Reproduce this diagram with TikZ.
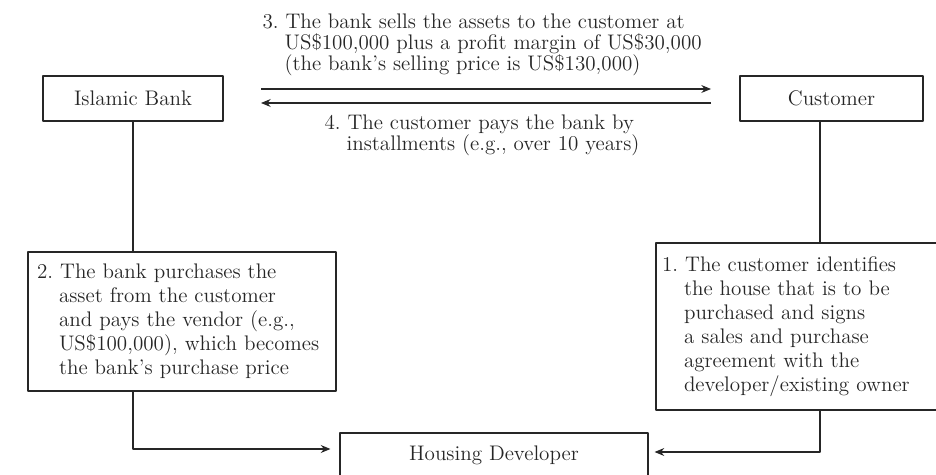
\documentclass[tikz,border=0pt]{standalone}
\usetikzlibrary{arrows.meta}
\newcommand{\hgap}{\hspace*{0.44cm}}
\frenchspacing
\tikzset{
  box/.style={draw,rectangle,inner sep=0pt,font=\fontsize{12}{13.7}\selectfont},
  stepbox/.style={box,align=left,inner xsep=0.18cm},
  note/.style={inner sep=0pt,anchor=north west,align=left,font=\fontsize{12}{11.9}\selectfont}
}
\begin{document}
\begin{tikzpicture}[x=0.02cm,y=-0.02cm,line width=0.65pt,line join=round,>={Stealth[length=5.5pt,width=4.5pt]},color=black!85]
\useasboundingbox(0,0)rectangle(936,475);
\node[box,minimum width=3.6cm,minimum height=0.9cm](bank)at(133,98.5){Islamic Bank};
\node[box,minimum width=3.66cm,minimum height=0.9cm](cust)at(831.5,98.5){Customer};
\node[box,minimum width=6.16cm,minimum height=0.88cm](dev)at(494,455){Housing Developer};
\node[stepbox,text width=5.8cm,minimum height=2.78cm](buy)at(182,321.5){2. The bank purchases the\\\hgap asset from the customer\\\hgap and pays the vendor (e.g.,\\\hgap US\$100,000), which becomes\\\hgap the bank’s purchase price};
\node[stepbox,inner xsep=0.12cm,text width=5.38cm,minimum height=3.34cm](find)at(796.5,326.5){1. The customer identifies\\\hgap the house that is to be\\\hgap purchased and signs\\\hgap a sales and purchase\\\hgap agreement with the\\\hgap developer/existing owner};
\node[note](sell)at(262,13.5){3. The bank sells the assets to the customer at\\\hgap US\$100,000 plus a profit margin of US\$30,000\\\hgap (the bank’s selling price is US\$130,000)};
\node[note](pay)at(324,114.5){4. The customer pays the bank by\\\hgap installments (e.g., over 10 years)};
\coordinate(p1)at(261,89);
\coordinate(p2)at(711,89);
\coordinate(q1)at(261,103);
\coordinate(q2)at(711,103);
\coordinate(r)at(820,0);
\draw[->](p1)--(p2);
\draw[->](q2)--(q1);
\draw(bank.south)--(bank.south|-buy.north);
\draw[->,shorten >=0.18cm](bank.south|-buy.south)|-([yshift=0.12cm]dev.west);
\draw(r|-cust.south)--(r|-find.north);
\draw[->,shorten >=0.12cm](r|-find.south)|-([yshift=0.06cm]dev.east);
\end{tikzpicture}
\end{document}
